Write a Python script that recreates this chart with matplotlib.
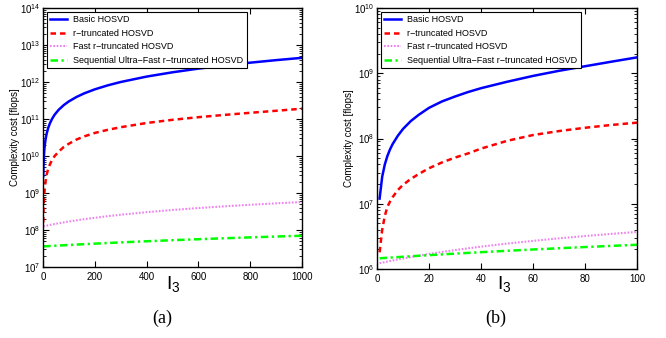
import matplotlib
matplotlib.use("Agg")
import matplotlib.pyplot as plt

plt.rcParams["font.family"] = ["Liberation Sans", "DejaVu Sans"]
plt.rcParams["mathtext.fontset"] = "custom"
plt.rcParams["mathtext.rm"] = "Liberation Sans"

LABELS = [
    "Basic HOSVD",
    "r\u2212truncated HOSVD",
    "Fast r\u2212truncated HOSVD",
    "Sequential Ultra\u2212Fast r\u2212truncated HOSVD",
]

# panel (a), I3 up to 1000
x_a = [1, 2, 3, 5, 7, 10, 14, 20, 27, 35, 45, 60, 80, 100, 130, 160, 200,
       250, 300, 400, 500, 600, 700, 800, 900, 1000]
basic_a = [2.83e9, 5.67e9, 8.5e9, 1.42e10, 1.99e10, 2.85e10, 3.99e10, 5.73e10,
           7.76e10, 1.01e11, 1.31e11, 1.76e11, 2.37e11, 3.0e11, 3.96e11, 4.96e11,
           6.33e11, 8.12e11, 1.0e12, 1.4e12, 1.83e12, 2.3e12, 2.8e12, 3.33e12,
           3.9e12, 4.5e12]
rtrunc_a = [1.6e8, 3.5e8, 5.5e8, 9.5e8, 1.4e9, 2.1e9, 3.1e9, 4.5e9, 6e9, 7.8e9,
            1e10, 1.3e10, 1.75e10, 2.15e10, 2.8e10, 3.4e10, 4.2e10, 5.1e10, 6e10,
            7.8e10, 9.5e10, 1.12e11, 1.29e11, 1.47e11, 1.67e11, 1.9e11]
fast_a = [1.254e8, 1.259e8, 1.263e8, 1.272e8, 1.281e8, 1.295e8, 1.312e8, 1.339e8,
          1.37e8, 1.406e8, 1.45e8, 1.517e8, 1.606e8, 1.695e8, 1.829e8, 1.962e8,
          2.14e8, 2.363e8, 2.585e8, 3.03e8, 3.475e8, 3.92e8, 4.365e8, 4.81e8,
          5.255e8, 5.7e8]
seq_a = [3.6e7, 3.61e7, 3.61e7, 3.62e7, 3.62e7, 3.63e7, 3.65e7, 3.67e7, 3.69e7,
         3.72e7, 3.75e7, 3.8e7, 3.87e7, 3.94e7, 4.04e7, 4.14e7, 4.28e7, 4.45e7,
         4.62e7, 4.96e7, 5.3e7, 5.64e7, 5.98e7, 6.32e7, 6.66e7, 7e7]

# panel (b), I3 up to 100
x_b = [1, 2, 3, 4, 5, 6, 8, 10, 13, 16, 20, 25, 30, 35, 40, 50, 60, 70, 80, 90, 100]
basic_b = [1.2e7, 2.6e7, 4.0e7, 5.4e7, 6.8e7, 8.2e7, 1.1e8, 1.4e8, 1.85e8, 2.3e8,
           2.95e8, 3.7e8, 4.4e8, 5.15e8, 5.9e8, 7.4e8, 9.1e8, 1.09e9, 1.28e9, 1.5e9,
           1.75e9]
rtrunc_b = [1.8e6, 4e6, 6.5e6, 9e6, 1.08e7, 1.26e7, 1.62e7, 1.95e7, 2.4e7, 2.85e7,
            3.5e7, 4.3e7, 5.1e7, 5.9e7, 7e7, 9.2e7, 1.13e8, 1.3e8, 1.46e8, 1.61e8,
            1.75e8]
fast_b = [1.225e6, 1.25e6, 1.275e6, 1.3e6, 1.325e6, 1.35e6, 1.4e6, 1.45e6, 1.525e6,
          1.6e6, 1.7e6, 1.825e6, 1.95e6, 2.075e6, 2.2e6, 2.45e6, 2.7e6, 2.95e6,
          3.2e6, 3.45e6, 3.7e6]
seq_b = [1.459e6, 1.468e6, 1.477e6, 1.486e6, 1.495e6, 1.504e6, 1.522e6, 1.54e6,
         1.567e6, 1.594e6, 1.63e6, 1.675e6, 1.72e6, 1.765e6, 1.81e6, 1.9e6, 1.99e6,
         2.08e6, 2.17e6, 2.26e6, 2.35e6]


def draw_panel(ax, x, series, xmax, xticks, ylim):
    styles = [
        dict(color="#0000ff", linestyle="-", linewidth=1.8),
        dict(color="#ff0000", linestyle=(0, (2.2, 1.6)), linewidth=1.8),
        dict(color="#ee82ee", linestyle=(0, (0.8, 0.8)), linewidth=1.5),
        dict(color="#00ff00", linestyle=(0, (3.0, 1.4, 0.9, 1.4)), linewidth=1.8),
    ]
    for y, label, st in zip(series, LABELS, styles):
        ax.plot(x, y, label=label, **st)
    ax.set_yscale("log")
    ax.set_xlim(0, xmax)
    ax.set_ylim(*ylim)
    ax.set_xticks(xticks)
    ax.set_ylabel("Complexity cost [flops]", fontsize=7)
    ax.yaxis.set_label_coords(-0.09, 0.5)
    ax.tick_params(which="both", direction="in", top=True, right=True, labelsize=7)
    ax.tick_params(axis="y", pad=2)
    ax.tick_params(which="major", length=4, width=0.8)
    ax.tick_params(which="minor", length=2, width=0.6)
    for sp in ax.spines.values():
        sp.set_linewidth(1.0)
    leg = ax.legend(loc="upper left", fontsize=6.5, fancybox=False, framealpha=1,
                    borderaxespad=0.4, handlelength=1.9, labelspacing=0.5,
                    borderpad=0.4, handletextpad=0.6)
    leg.get_frame().set_edgecolor("black")
    leg.get_frame().set_linewidth(0.8)


fig = plt.figure(figsize=(6.66, 3.38), dpi=100)
ax_a = fig.add_axes([43 / 666, 71 / 338, 259 / 666, 259 / 338])
ax_b = fig.add_axes([377 / 666, 69 / 338, 260 / 666, 261 / 338])

draw_panel(ax_a, x_a, [basic_a, rtrunc_a, fast_a, seq_a], 1000,
           [0, 200, 400, 600, 800, 1000], (1e7, 1e14))
draw_panel(ax_b, x_b, [basic_b, rtrunc_b, fast_b, seq_b], 100,
           [0, 20, 40, 60, 80, 100], (1e6, 1e10))

# I_3 axis labels and panel captions
fig.text(173 / 666, 1 - 284 / 338, r"$\mathregular{I_3}$", fontsize=14,
         ha="center", va="center")
fig.text(504 / 666, 1 - 284 / 338, r"$\mathregular{I_3}$", fontsize=14,
         ha="center", va="center")
fig.text(162 / 666, 1 - 318 / 338, "(a)", fontsize=13, family="Liberation Serif",
         ha="center", va="center")
fig.text(496 / 666, 1 - 318 / 338, "(b)", fontsize=13, family="Liberation Serif",
         ha="center", va="center")

fig.savefig("out.png", dpi=100)
